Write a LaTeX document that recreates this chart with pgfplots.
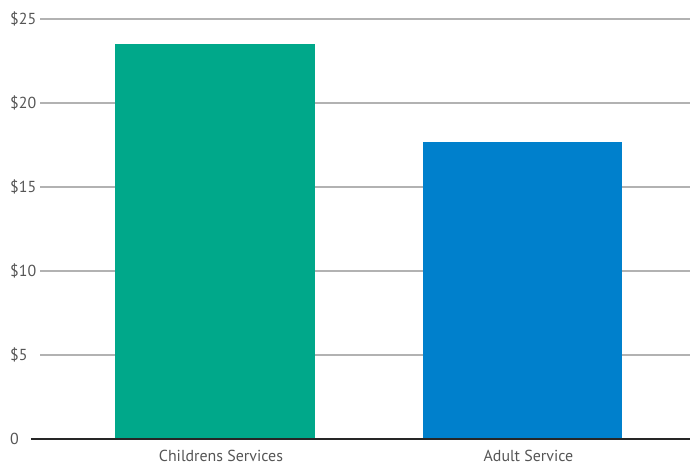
\documentclass[border=0pt]{standalone}
\usepackage{pgfplots}
\pgfplotsset{compat=1.18}
\usepackage{fontspec}
\setmainfont{PT Sans}
\definecolor{cgreen}{RGB}{0,168,138}
\definecolor{cblue}{RGB}{0,128,204}
\definecolor{gridc}{RGB}{178,178,178}
\definecolor{txt}{RGB}{85,85,85}
\begin{document}
\begin{tikzpicture}
\begin{axis}[
  scale only axis,
  width=650bp, height=420bp,
  xmin=-0.569, xmax=1.545,
  ymin=0, ymax=25,
  ytick={0,5,10,15,20,25},
  yticklabels={0,\$5,\$10,\$15,\$20,\$25},
  xtick={0,1},
  xticklabels={Childrens Services,Adult Service},
  axis line style={draw=none},
  tick style={draw=none},
  major tick length=0pt,
  xmajorgrids=false,
  ymajorgrids=true,
  grid style={draw=gridc, line width=1.3bp},
  ticklabel style={font=\fontsize{16}{18}\selectfont, text=txt},
  yticklabel style={anchor=west, inner sep=0pt, xshift=-30bp},
  xticklabel style={anchor=north, inner sep=0pt, yshift=-11bp, xshift=6bp},
  /pgf/number format/assume math mode=true,
  ybar, bar width=0.65,
  clip=false,
]
\addplot[fill=cgreen, draw=none, bar shift=0] coordinates {(0,23.52)};
\addplot[fill=cblue, draw=none, bar shift=0] coordinates {(1,17.65)};
\draw[black!85, line width=1.8bp] ([xshift=-9bp]rel axis cs:0,0) -- (rel axis cs:1,0);
\coordinate (bl) at (rel axis cs:0,0);
\coordinate (tr) at (rel axis cs:1,1);
\end{axis}
\pgfresetboundingbox
\path ([shift={(-40bp,-28bp)}]bl) rectangle ([shift={(0bp,19bp)}]tr);
\end{tikzpicture}
\end{document}
